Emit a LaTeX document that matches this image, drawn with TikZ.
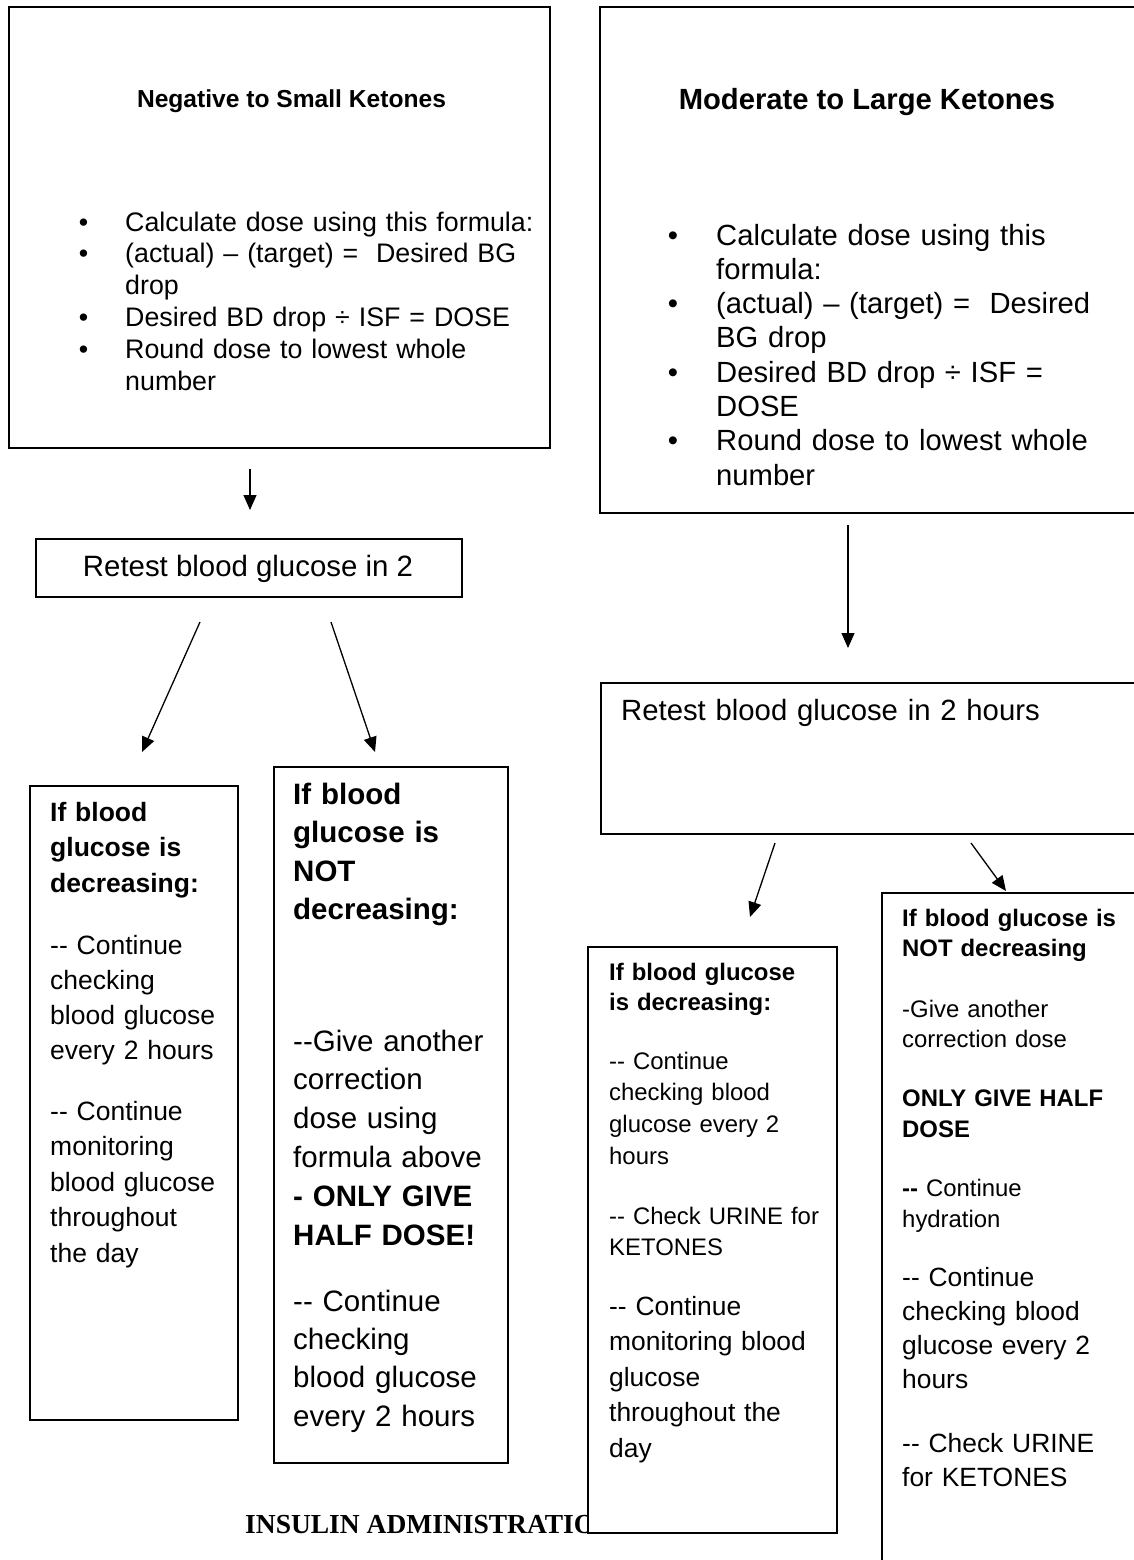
\documentclass[tikz,border=0pt]{standalone}
\usepackage{fontspec}
\setmainfont{Liberation Sans}[Ligatures=TeXOff]
\newfontfamily\serifface{Liberation Serif}[Ligatures=TeXOff]
\usetikzlibrary{arrows.meta}
\newcommand\fsz[2]{\fontsize{#1pt}{#2pt}\selectfont}
\begin{document}
\begin{tikzpicture}[x=1pt,y=-1pt,
  boxstyle/.style={draw, fill=white, line width=1.6pt, inner sep=0pt, anchor=north west},
  para/.style={anchor=base west, inner sep=0pt, align=left, text width=520pt},
  ctext/.style={anchor=base, inner sep=0pt},
  bul/.style={anchor=base, inner sep=0pt},
  arr/.style={line width=1.3pt, -{Triangle[length=15pt,width=13pt]}}]
\useasboundingbox (0,0) rectangle (1134,1560);
\clip (0,0) rectangle (1134,1560);
\fill[white] (0,0) rectangle (1134,1560);

% ---------- top left box ----------
\node[boxstyle, minimum width=541pt, minimum height=441pt] (neg) at (8,6) {};
\node[ctext, font=\bfseries\fsz{24.6}{29}] (negtitle) at (291.5,108) {Negative to Small Ketones};
\node[bul, font=\fsz{26.8}{31.8}] (negb1) at (83.5,231) {•};
\node[bul, font=\fsz{26.8}{31.8}] (negb2) at (83.5,262.8) {•};
\node[bul, font=\fsz{26.8}{31.8}] (negb3) at (83.5,326.4) {•};
\node[bul, font=\fsz{26.8}{31.8}] (negb4) at (83.5,358.2) {•};
\node[para, font=\fsz{26.8}{31.8}] (negtext) at (125,231)
  {Calculate dose using this formula:\\(actual) – (target) = \ Desired BG\\drop\\Desired BD drop ÷ ISF = DOSE\\Round dose to lowest whole\\number};

% ---------- top right box ----------
\node[boxstyle, minimum width=545pt, minimum height=506pt] (mod) at (599,6) {};
\node[ctext, font=\bfseries\fsz{29.2}{34}] (modtitle) at (867,110) {Moderate to Large Ketones};
\node[bul, font=\fsz{29.2}{34.3}] (modb1) at (673,245) {•};
\node[bul, font=\fsz{29.2}{34.3}] (modb2) at (673,313.6) {•};
\node[bul, font=\fsz{29.2}{34.3}] (modb3) at (673,382.2) {•};
\node[bul, font=\fsz{29.2}{34.3}] (modb4) at (673,450.8) {•};
\node[para, font=\fsz{29.2}{34.3}] (modtext) at (716,245)
  {Calculate dose using this\\formula:\\(actual) – (target) = \ Desired\\BG drop\\Desired BD drop ÷ ISF =\\DOSE\\Round dose to lowest whole\\number};

% ---------- left branch ----------
\coordinate (a1s) at (250,469);
\coordinate (a1e) at (250,510);
\draw[arr] (a1s) -- (a1e);

\node[boxstyle, minimum width=426pt, minimum height=58pt] (ret1) at (35,538) {};
\node[ctext, font=\fsz{29.4}{35}] (ret1t) at (248,576) {Retest blood glucose in 2};

\coordinate (a2s) at (200,622);
\coordinate (a2e) at (142,752);
\coordinate (a3s) at (331,622);
\coordinate (a3e) at (375,752);
\draw[arr] (a2s) -- (a2e);
\draw[arr] (a3s) -- (a3e);

\node[boxstyle, minimum width=208pt, minimum height=634pt] (dec1) at (29,785) {};
\node[para, font=\bfseries\fsz{26.5}{35.5}] (dec1a) at (50,821) {If blood\\glucose is\\decreasing:};
\node[para, font=\fsz{26.5}{35.2}] (dec1b) at (50,954) {-- Continue\\checking\\blood glucose\\every 2 hours};
\node[para, font=\fsz{26.5}{35.5}] (dec1c) at (50,1120) {-- Continue\\monitoring\\blood glucose\\throughout\\the day};

\node[boxstyle, minimum width=234pt, minimum height=696pt] (ndec1) at (273,766) {};
\node[para, font=\bfseries\fsz{29.5}{38.6}] (ndec1a) at (293,804) {If blood\\glucose is\\NOT\\decreasing:};
\node[para, font=\fsz{29.5}{38.8}] (ndec1b) at (293,1051) {--Give another\\correction\\dose using\\formula above\\{\bfseries - ONLY GIVE}\\{\bfseries HALF DOSE!}};
\node[para, font=\fsz{29.5}{38.4}] (ndec1c) at (293,1311) {-- Continue\\checking\\blood glucose\\every 2 hours};

% ---------- right branch ----------
\coordinate (b1s) at (848,525);
\coordinate (b1e) at (848,648);
\draw[arr] (b1s) -- (b1e);

\node[boxstyle, minimum width=545pt, minimum height=151pt] (ret2) at (600,682) {};
\node[para, font=\fsz{29.3}{35}] (ret2t) at (621,720) {Retest blood glucose in 2 hours};

\coordinate (b2s) at (775,843);
\coordinate (b2e) at (750,917);
\coordinate (b3s) at (971,843);
\coordinate (b3e) at (1006,891);
\draw[arr] (b2s) -- (b2e);
\draw[arr] (b3s) -- (b3e);

% footer (partly hidden behind the next box)
\node[anchor=base west, inner sep=0pt, font=\serifface\bfseries\fsz{27.5}{30}] (footer) at (245,1533) {INSULIN ADMINISTRATIO};

\node[boxstyle, minimum width=249pt, minimum height=586pt] (dec2) at (587,946) {};
\node[para, font=\bfseries\fsz{23.9}{30.5}] (dec2a) at (609,980) {If blood glucose\\is decreasing:};
\node[para, font=\fsz{23.9}{31.7}] (dec2b) at (609,1069) {-- Continue\\checking blood\\glucose every 2\\hours};
\node[para, font=\fsz{23.9}{31}] (dec2c) at (609,1224) {-- Check URINE for\\KETONES};
\node[para, font=\fsz{26.4}{35.5}] (dec2d) at (609,1315) {-- Continue\\monitoring blood\\glucose\\throughout the\\day};

\node[boxstyle, minimum width=260pt, minimum height=700pt] (ndec2) at (881,892) {};
\node[para, font=\bfseries\fsz{23.9}{30.5}] (ndec2a) at (902,926) {If blood glucose is\\NOT decreasing};
\node[para, font=\fsz{23.9}{30.5}] (ndec2b) at (902,1017) {-Give another\\correction dose};
\node[para, font=\bfseries\fsz{23.9}{30.5}] (ndec2c) at (902,1106.5) {ONLY GIVE HALF\\DOSE};
\node[para, font=\fsz{23.9}{30.8}] (ndec2d) at (902,1196.5) {{\bfseries --} Continue\\hydration};
\node[para, font=\fsz{26.4}{34.3}] (ndec2e) at (902,1286) {-- Continue\\checking blood\\glucose every 2\\hours};
\node[para, font=\fsz{26.4}{34.5}] (ndec2f) at (902,1452) {-- Check URINE\\for KETONES};
\end{tikzpicture}
\end{document}
